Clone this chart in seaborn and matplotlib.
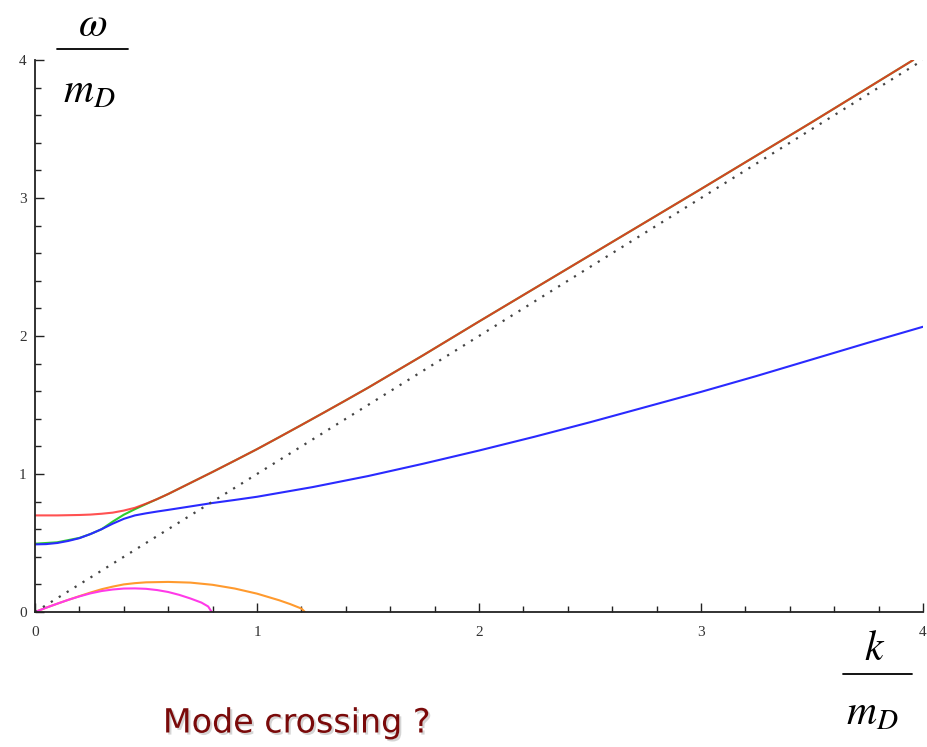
import numpy as np
import pandas as pd
import matplotlib
matplotlib.use("Agg")
import matplotlib.pyplot as plt
import matplotlib.patheffects as pe
from matplotlib.lines import Line2D
from matplotlib.ticker import MultipleLocator
import seaborn as sns

# ---- data ----
k_top = [0, 0.1, 0.2, 0.25, 0.3, 0.35, 0.4, 0.45, 0.5, 0.55, 0.6, 0.7, 0.8, 0.9, 1.0, 1.1, 1.2,
         1.3, 1.4, 1.5, 1.75, 2.0, 2.5, 3.0, 3.5, 3.956]
w_red = [0.70, 0.700, 0.703, 0.706, 0.712, 0.72, 0.735, 0.755, 0.785, 0.818, 0.855, 0.935, 1.015,
         1.097, 1.18, 1.267, 1.355, 1.444, 1.534, 1.625, 1.862, 2.105, 2.585, 3.065, 3.55, 4.0]
w_green = [0.495, 0.505, 0.537, 0.565, 0.60, 0.655, 0.705, 0.745, 0.782, 0.818, 0.855, 0.935, 1.015,
           1.097, 1.18, 1.267, 1.355, 1.444, 1.534, 1.625, 1.862, 2.105, 2.585, 3.065, 3.55, 4.0]

k_blue = [0, 0.05, 0.1, 0.15, 0.2, 0.25, 0.3, 0.35, 0.4, 0.45, 0.5, 0.55, 0.6, 0.7, 0.8, 0.9,
          1.0, 1.25, 1.5, 1.75, 2.0, 2.25, 2.5, 2.75, 3.0, 3.25, 3.5, 3.75, 4.0]
w_blue = [0.49, 0.492, 0.50, 0.515, 0.535, 0.565, 0.60, 0.64, 0.675, 0.70, 0.715, 0.728, 0.74,
          0.765, 0.79, 0.812, 0.835, 0.905, 0.985, 1.075, 1.17, 1.27, 1.375, 1.485, 1.595,
          1.71, 1.83, 1.95, 2.067]

k_orange = [0, 0.05, 0.1, 0.15, 0.2, 0.25, 0.3, 0.35, 0.4, 0.45, 0.5, 0.6, 0.7, 0.8, 0.9, 1.0,
            1.1, 1.15, 1.2, 1.216]
w_orange = [0, 0.031, 0.06, 0.088, 0.115, 0.141, 0.165, 0.184, 0.2, 0.209, 0.215, 0.218, 0.213,
            0.197, 0.17, 0.133, 0.085, 0.057, 0.025, 0]

k_magenta = [0, 0.05, 0.1, 0.15, 0.2, 0.25, 0.3, 0.35, 0.4, 0.45, 0.5, 0.55, 0.6, 0.65, 0.7,
             0.75, 0.78, 0.796]
w_magenta = [0, 0.031, 0.06, 0.088, 0.113, 0.135, 0.152, 0.163, 0.17, 0.171, 0.168, 0.159,
             0.145, 0.124, 0.098, 0.068, 0.04, 0]

k_light = [0, 4]
w_light = [0, 4]

x_ticks = [0, 1, 2, 3, 4]
y_ticks = [0, 1, 2, 3, 4]

# ---- figure ----
sns.set_style("white")
W, H = 927, 747
fig = plt.figure(figsize=(W / 100, H / 100), dpi=100)
ax = fig.add_axes([35 / W, 1 - 612 / H, (923 - 35) / W, (612 - 60) / H])

lw = 1.5
sns.lineplot(x=k_top, y=w_green, color="#2ecc2e", lw=lw, ax=ax, sort=False, estimator=None)
sns.lineplot(x=k_top, y=w_red, color="#ff2020", lw=lw, alpha=0.78, ax=ax, sort=False, estimator=None)
sns.lineplot(x=k_blue, y=w_blue, color="#2a2aff", lw=lw, ax=ax, sort=False, estimator=None)
sns.lineplot(x=k_orange, y=w_orange, color="#ff9a2e", lw=lw, ax=ax, sort=False, estimator=None)
sns.lineplot(x=k_magenta, y=w_magenta, color="#ff3ae8", lw=lw, ax=ax, sort=False, estimator=None)
sns.lineplot(x=k_light, y=w_light, color="#444444", lw=1.6, ax=ax, sort=False,
             estimator=None, linestyle=(0, (1, 3.2)))

ax.set_xlim(0, 4)
ax.set_ylim(0, 4)
ax.set_xlabel("")
ax.set_ylabel("")
ax.set_xticks(x_ticks)
ax.set_yticks(y_ticks)
ax.set_xticklabels([str(t) for t in x_ticks])
ax.set_yticklabels([str(t) for t in y_ticks])
ax.xaxis.set_minor_locator(MultipleLocator(0.2))
ax.yaxis.set_minor_locator(MultipleLocator(0.2))

for s in ["top", "right"]:
    ax.spines[s].set_visible(False)
for s in ["left", "bottom"]:
    ax.spines[s].set_linewidth(1.3)
    ax.spines[s].set_color("#222222")

ax.tick_params(which="both", bottom=True, left=True, top=False, right=False)
ax.tick_params(which="major", direction="in", length=6.5, width=1.0, color="#222222",
               labelsize=11, labelcolor="#333333")
ax.tick_params(which="minor", direction="in", length=4.3, width=1.0, color="#222222")
ax.tick_params(axis="y", which="major", pad=6)
ax.tick_params(axis="x", which="major", pad=10)
for lab in ax.get_xticklabels() + ax.get_yticklabels():
    lab.set_family("Liberation Serif")
ax.set_facecolor("white")

plt.rcParams["mathtext.fontset"] = "stix"

def fx(x):
    return x / W

def fy(y):
    return 1 - y / H

# omega / m_D label
fig.text(fx(93), fy(24), r"$\omega$", fontsize=30, ha="center", va="center", color="black")
fig.add_artist(Line2D([fx(57), fx(128)], [fy(49), fy(49)], color="black", lw=1.3))
fig.text(fx(89), fy(90), r"$m_D$", fontsize=30, ha="center", va="center", color="black")

# k / m_D label
fig.text(fx(875), fy(648), r"$k$", fontsize=30, ha="center", va="center", color="black")
fig.add_artist(Line2D([fx(843), fx(912)], [fy(674), fy(674)], color="black", lw=1.3))
fig.text(fx(872), fy(712), r"$m_D$", fontsize=30, ha="center", va="center", color="black")

# annotation
fig.text(fx(297), fy(723), "Mode crossing ?", fontsize=24, ha="center", va="center",
         color="#7a0a0a", family="DejaVu Sans",
         path_effects=[pe.withSimplePatchShadow(offset=(1.5, -1.5), shadow_rgbFace="#888888", alpha=0.35)])

fig.savefig("out.png", dpi=100, facecolor="white")
